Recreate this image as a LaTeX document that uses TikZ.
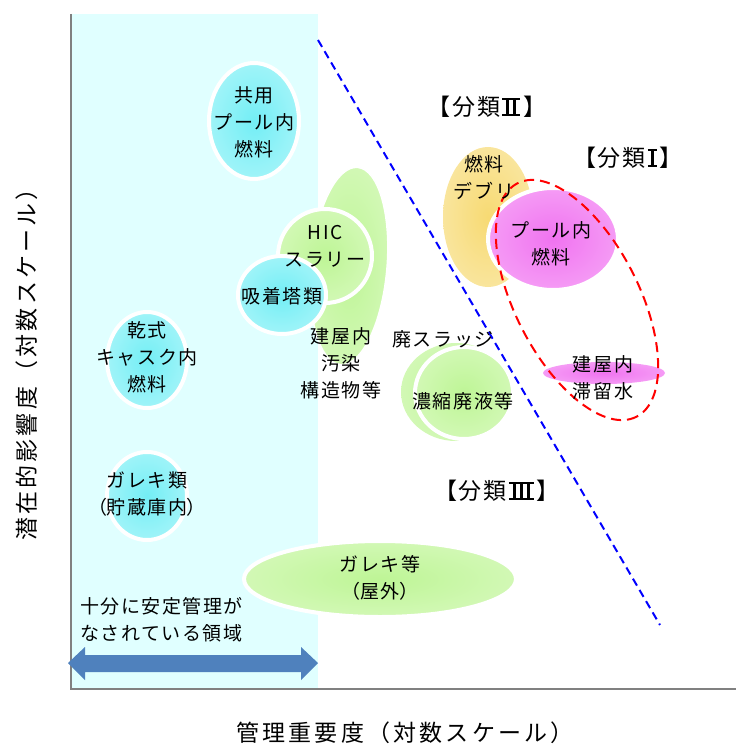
\documentclass[tikz,border=0pt]{standalone}
\usepackage{fontspec}
\setmainfont{Noto Sans CJK JP}[LetterSpace=8]
\newfontfamily\jpp[RawFeature=+palt]{Noto Sans CJK JP}
\newcommand\RomOne{\kern2pt\rlap{\rule{9pt}{2pt}}\rlap{\rule[16pt]{9pt}{2pt}}\kern3pt\rule{3pt}{18pt}\kern3pt\kern3pt}
\newcommand\RomTwo{\kern2pt\rlap{\rule{18pt}{2pt}}\rlap{\rule[16pt]{18pt}{2pt}}\kern4pt\rule{3pt}{18pt}\kern4pt\rule{3pt}{18pt}\kern4pt\kern3pt}
\newcommand\RomThree{\kern2pt\rlap{\rule{25pt}{2pt}}\rlap{\rule[16pt]{25pt}{2pt}}\kern4pt\rule{3pt}{18pt}\kern4pt\rule{3pt}{18pt}\kern4pt\rule{3pt}{18pt}\kern4pt\kern3pt}
\definecolor{bgcyan}{RGB}{224,255,255}
\definecolor{axisgray}{RGB}{128,128,128}
\definecolor{arrowblue}{RGB}{79,129,189}
\definecolor{cyI}{RGB}{115,238,245}
\definecolor{cyO}{RGB}{205,250,252}
\definecolor{grI}{RGB}{190,245,150}
\definecolor{grO}{RGB}{230,252,212}
\definecolor{yeI}{RGB}{247,218,115}
\definecolor{yeO}{RGB}{252,240,198}
\definecolor{maI}{RGB}{240,115,240}
\definecolor{maO}{RGB}{250,195,250}
\pgfdeclareradialshading{cybub}{\pgfpointorigin}{color(0bp)=(cyI); color(50bp)=(cyO); color(75bp)=(cyO)}
\pgfdeclareradialshading{grbub}{\pgfpointorigin}{color(0bp)=(grI); color(50bp)=(grO); color(75bp)=(grO)}
\pgfdeclareradialshading{yebub}{\pgfpointorigin}{color(0bp)=(yeI); color(50bp)=(yeO); color(75bp)=(yeO)}
\pgfdeclareradialshading{mabub}{\pgfpointorigin}{color(0bp)=(maI); color(50bp)=(maO); color(75bp)=(maO)}
\begin{document}
\begin{tikzpicture}[x=1pt,y=-1pt,
  bub/.style={draw=white,line width=4pt},
  cyb/.style={bub,shading=cybub},
  grb/.style={bub,shading=grbub},
  yeb/.style={bub,shading=yebub},
  mab/.style={bub,shading=mabub},
  lbl/.style={inner sep=0pt,align=center,font=\fontsize{19}{27}\selectfont},
  cls/.style={inner sep=0pt,font=\fontsize{23}{26}\selectfont},
  axl/.style={inner sep=0pt,font=\fontsize{23}{26}\selectfont\addfontfeature{LetterSpace=14}}]
\useasboundingbox (0,0) rectangle (736,746);
% safe region
\fill[bgcyan] (71,14) rectangle (318,689);
% bubbles
\shade[shading=grbub,rotate around={-5:(349,266)}] (349,266) ellipse [x radius=38, y radius=99];
\draw[white,line width=1.5pt,rotate around={-5:(349,266)}] (349,266) ellipse [x radius=38, y radius=99];
\shadedraw[cyb] (254,121) ellipse [x radius=45, y radius=58];
\shadedraw[grb] (325,256) ellipse [x radius=47, y radius=47];
\shadedraw[cyb] (282,295) ellipse [x radius=44, y radius=39];
\shadedraw[cyb] (147,360) ellipse [x radius=40, y radius=48];
\shadedraw[cyb] (147,496) ellipse [x radius=40, y radius=44];
\shadedraw[grb] (380,579) ellipse [x radius=136, y radius=38];
\shade[shading=grbub] (456,392) ellipse [x radius=55, y radius=49];
\shadedraw[grb] (464,393) ellipse [x radius=49, y radius=46];
\shade[shading=yebub] (488,217) ellipse [x radius=45, y radius=70];
\shadedraw[mab] (553,239) ellipse [x radius=65, y radius=51];
\shade[shading=mabub] (604,373) ellipse [x radius=61, y radius=11];
% axes
\coordinate (o) at (71,689);
\coordinate (ytop) at (71,14);
\coordinate (xend) at (736,689);
\draw[axisgray,line width=2pt] (ytop) -- (o) -- (xend);
% boundary line
\coordinate (b1) at (318,40);
\coordinate (b2) at (660,625);
\draw[blue,line width=2pt,dash pattern=on 8pt off 5pt] (b1) -- (b2);
% class I boundary
\draw[red,line width=2pt,dash pattern=on 10pt off 6pt,rotate around={-63:(577,300)}] (577,300) ellipse [x radius=131, y radius=62];
% double arrow
\fill[arrowblue] (68,663) -- (85,647) -- (85,655) -- (301,655) -- (301,647) -- (318,663) -- (301,680) -- (301,672) -- (85,672) -- (85,680) -- cycle;
% texts
\node[lbl] (t1) at (254,122) {共用\\プール内\\燃料};
\node[lbl] (t2) at (325,246) {HIC\\スラリー};
\node[lbl] (t3) at (282,296) {吸着塔類};
\node[lbl] (t4) at (341,363) {建屋内\\汚染\\構造物等};
\node[lbl] (t5) at (443,339) {廃スラッジ};
\node[lbl] (t6) at (463,401) {濃縮廃液等};
\node[lbl] (t7) at (147,357) {乾式\\キャスク内\\燃料};
\node[lbl] (t8) at (147,494) {ガレキ類\\{\jpp（}貯蔵庫内{\jpp）}};
\node[lbl] (t9) at (380,578) {ガレキ等\\{\jpp（}屋外{\jpp）}};
\node[lbl] (t10) at (484,178) {燃料\\デブリ};
\node[lbl] (t11) at (551,244) {プール内\\燃料};
\node[lbl] (t12) at (603,378) {建屋内\\滞留水};
\node[lbl,align=left,anchor=west] (t13) at (80,620) {十分に安定管理が\\なされている領域};
\node[cls] (c2) at (487,107) {【分類\RomTwo】};
\node[cls] (c1) at (628,158) {【分類\RomOne】};
\node[cls] (c3) at (497,491) {【分類\RomThree】};
\node[axl] (xl) at (405,733) {管理重要度（対数スケール）};
\node[axl,rotate=90] (yl) at (27,359) {潜在的影響度（対数スケール）};
\end{tikzpicture}
\end{document}
